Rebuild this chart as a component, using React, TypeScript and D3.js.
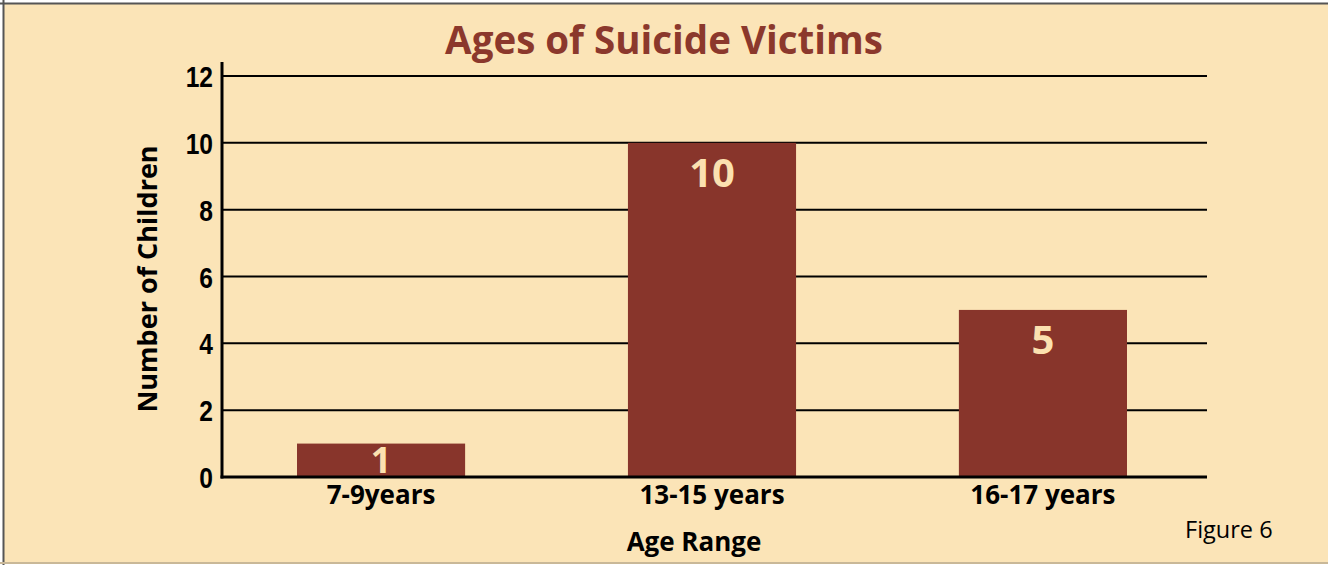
import * as d3 from 'd3'
import React, { useEffect, useRef } from 'react'

const categories = ['7-9years', '13-15 years', '16-17 years']
const values = [1, 10, 5]
const yTicks = [0, 2, 4, 6, 8, 10, 12]

const W = 1328
const H = 565

const Chart = () => {
  const ref = useRef(null)

  useEffect(() => {
    const svg = d3.select(ref.current)
    svg.selectAll('*').remove()

    svg.append('rect').attr('width', W).attr('height', H).attr('fill', '#fff')
    svg.append('rect').attr('x', 3).attr('y', 3).attr('width', W - 3).attr('height', 559).attr('fill', '#FBE4B7')
    // frame lines
    svg.append('line').attr('x1', 0).attr('x2', W).attr('y1', 3.5).attr('y2', 3.5).attr('stroke', '#555').attr('stroke-width', 2)
    svg.append('line').attr('x1', 3.5).attr('x2', 3.5).attr('y1', 0).attr('y2', H).attr('stroke', '#555').attr('stroke-width', 2)
    svg.append('line').attr('x1', 0).attr('x2', W).attr('y1', 563).attr('y2', 563).attr('stroke', '#C9B898').attr('stroke-width', 2)

    const left = 222
    const right = 1207
    const y = d3.scaleLinear().domain([0, 12]).range([477, 76])
    const x = d3.scaleBand().domain(categories).range([297, 1127]).paddingInner(0.492).paddingOuter(0)
    const cx = (c: string) => (x(c) as number) + x.bandwidth() / 2

    // gridlines
    svg.append('g')
      .selectAll('line')
      .data(yTicks.filter(t => t > 0))
      .enter()
      .append('line')
      .attr('x1', left)
      .attr('x2', right)
      .attr('y1', d => y(d))
      .attr('y2', d => y(d))
      .attr('stroke', '#000')
      .attr('stroke-width', 2)

    // tick labels (condensed look via horizontal squeeze)
    svg.append('g')
      .selectAll('text')
      .data(yTicks)
      .enter()
      .append('text')
      .attr('transform', d => `translate(213, ${y(d) + 11}) scale(0.82, 1)`)
      .attr('text-anchor', 'end')
      .attr('font-family', '"Liberation Sans", Arial, sans-serif')
      .attr('font-weight', 'bold')
      .attr('font-size', 30)
      .attr('fill', '#000')
      .text(d => d)

    // bars
    svg.append('g')
      .selectAll('rect')
      .data(values)
      .enter()
      .append('rect')
      .attr('x', (d, i) => x(categories[i]) as number)
      .attr('y', d => y(d))
      .attr('width', x.bandwidth())
      .attr('height', d => y(0) - y(d))
      .attr('fill', '#88352B')

    svg.append('g')
      .selectAll('text')
      .data(values)
      .enter()
      .append('text')
      .attr('x', (d, i) => cx(categories[i]))
      .attr('y', d => Math.min(y(d) + 44, y(0) - 4))
      .attr('text-anchor', 'middle')
      .attr('font-family', '"Open Sans", sans-serif')
      .attr('font-weight', 'bold')
      .attr('font-size', d => (d < 2 ? 36 : 40))
      .attr('fill', '#FBE1B0')
      .text(d => d)

    // axes lines
    svg.append('line').attr('x1', left).attr('x2', left).attr('y1', 62).attr('y2', 478.5).attr('stroke', '#000').attr('stroke-width', 3)
    svg.append('line').attr('x1', left - 1.5).attr('x2', right).attr('y1', 477).attr('y2', 477).attr('stroke', '#000').attr('stroke-width', 3)

    // category labels
    svg.append('g')
      .selectAll('text')
      .data(categories)
      .enter()
      .append('text')
      .attr('x', d => cx(d))
      .attr('y', 504)
      .attr('text-anchor', 'middle')
      .attr('font-family', '"Open Sans", sans-serif')
      .attr('font-weight', 'bold')
      .attr('font-size', 26)
      .attr('fill', '#000')
      .text(d => d)

    svg.append('text')
      .attr('x', 664)
      .attr('y', 54)
      .attr('text-anchor', 'middle')
      .attr('font-family', '"Open Sans", sans-serif')
      .attr('font-weight', 'bold')
      .attr('font-size', 38.5)
      .attr('fill', '#8B382C')
      .text('Ages of Suicide Victims')

    svg.append('text')
      .attr('transform', 'translate(157, 279) rotate(-90)')
      .attr('text-anchor', 'middle')
      .attr('font-family', '"Open Sans", sans-serif')
      .attr('font-weight', 'bold')
      .attr('font-size', 27)
      .attr('fill', '#000')
      .text('Number of Children')

    svg.append('text')
      .attr('x', 694)
      .attr('y', 551)
      .attr('text-anchor', 'middle')
      .attr('font-family', '"Open Sans", sans-serif')
      .attr('font-weight', 'bold')
      .attr('font-size', 26)
      .attr('fill', '#000')
      .text('Age Range')

    svg.append('text')
      .attr('x', 1185)
      .attr('y', 538)
      .attr('font-family', '"Open Sans", sans-serif')
      .attr('font-size', 23.5)
      .attr('fill', '#000')
      .text('Figure 6')
  }, [])

  return <svg ref={ref} width={W} height={H} style={{ position: 'absolute', left: 0, top: 0, display: 'block' }}></svg>
}

export default function App() {
  return <Chart />
}
